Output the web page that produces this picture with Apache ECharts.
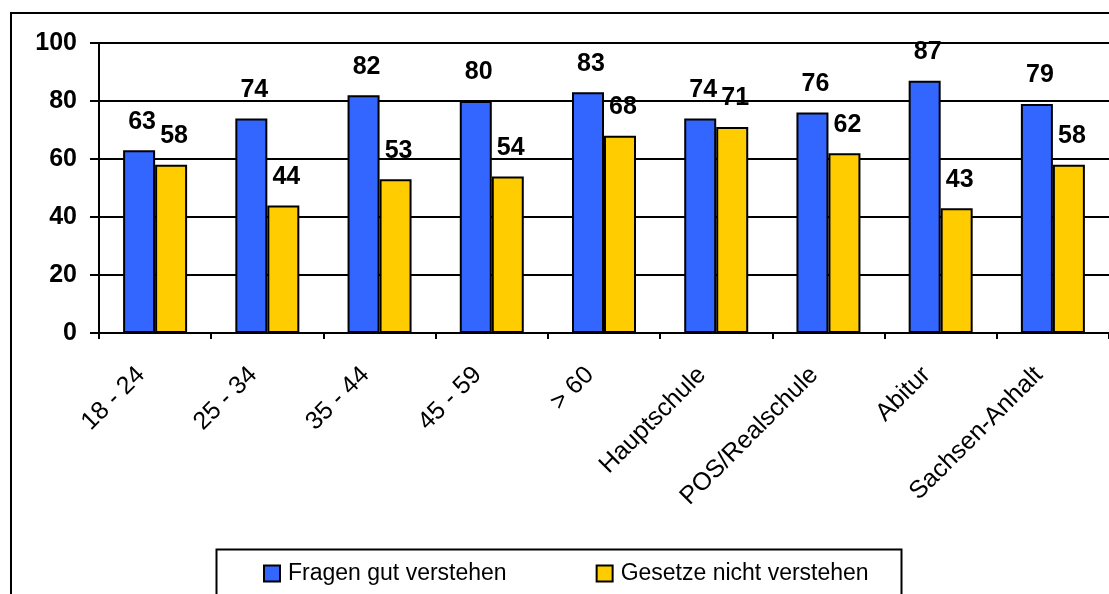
<!DOCTYPE html>
<html>
<head>
<meta charset="utf-8">
<script src="https://cdn.jsdelivr.net/npm/echarts@6/dist/echarts.min.js"></script>
<style>html,body{margin:0;padding:0;background:#fff}#c{width:1109px;height:594px}</style>
</head>
<body>
<div id="c"></div>
<script>
const categories = ['18 - 24','25 - 34','35 - 44','45 - 59','> 60','Hauptschule','POS/Realschule','Abitur','Sachsen-Anhalt'];
const seriesNames = ['Fragen gut verstehen','Gesetze nicht verstehen'];
const fragenGut = [63,74,82,80,83,74,76,87,79];
const gesetzeNicht = [58,44,53,54,68,71,62,43,58];
const yTicks = [0,20,40,60,80,100];

const FONT = '"Liberation Sans", Arial, sans-serif';
const chart = echarts.init(document.getElementById('c'), null, {renderer:'canvas'});
const labelCfg = {show:true, position:'top', distance:16, offset:[3,0], color:'#000', fontWeight:'bold', fontSize:25, fontFamily:FONT};
chart.setOption({
  animation:false,
  backgroundColor:'#fff',
  grid:{left:99, top:43, width:1013, height:290, containLabel:false},
  xAxis:{
    type:'category', data:categories,
    axisLine:{lineStyle:{color:'#000', width:2}},
    axisTick:{show:true, length:6, lineStyle:{color:'#000', width:2}, alignWithLabel:false},
    axisLabel:{rotate:45, interval:0, margin:24, color:'#000', fontSize:25, fontFamily:FONT, padding:[0,20,0,0]}
  },
  yAxis:{
    type:'value', min:yTicks[0], max:yTicks[yTicks.length-1], interval:20,
    axisLine:{show:true, lineStyle:{color:'#000', width:2}},
    axisTick:{show:true, inside:false, length:9, lineStyle:{color:'#000', width:2}},
    axisLabel:{margin:22, color:'#000', fontSize:25, fontWeight:'bold', fontFamily:FONT},
    splitLine:{show:true, lineStyle:{color:'#000', width:2}}
  },
  legend:{
    left:263, top:562, padding:0, itemWidth:16, itemHeight:16, itemGap:89, icon:'rect',
    textStyle:{color:'#000', fontSize:23, fontFamily:FONT, padding:[2,0,0,3]},
    data:seriesNames
  },
  series:[
    {name:seriesNames[0], type:'bar', data:fragenGut, barWidth:32, barGap:'0%',
     itemStyle:{color:'#3366FF', borderColor:'#000', borderWidth:2}, label:labelCfg},
    {name:seriesNames[1], type:'bar', data:gesetzeNicht, barWidth:32,
     itemStyle:{color:'#FFCC00', borderColor:'#000', borderWidth:2}, label:labelCfg}
  ],
  graphic:[
    {type:'rect', silent:true, z:-1, shape:{x:11, y:13, width:1120, height:600}, style:{fill:null, stroke:'#000', lineWidth:2}},
    {type:'rect', silent:true, z:-1, shape:{x:216.5, y:549.5, width:685, height:60}, style:{fill:null, stroke:'#000', lineWidth:2}}
  ]
});
</script>
</body>
</html>
